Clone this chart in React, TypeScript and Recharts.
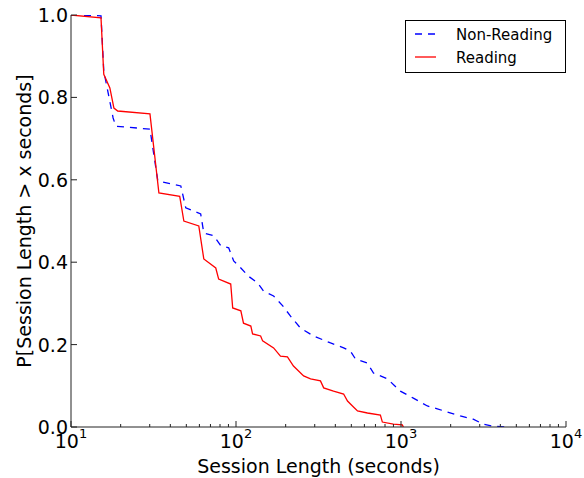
import { Label, Legend, Line, LineChart, XAxis, YAxis } from "recharts";

// session length (s) vs P[length > x]
const NON_READING_X = [
  10, 15.2, 15.8, 18.0, 18.7, 30.1, 33.6, 46.3, 49.6, 61.1, 63.8, 73.3, 80.8,
  90.3, 96.8, 107, 119, 135, 147, 169, 192, 214, 246, 295, 374, 449, 494, 530,
  626, 681, 827, 991, 1188, 1445, 1660, 2286, 2740, 3150, 3620, 4400,
];
const NON_READING_P = [
  1.0, 0.998, 0.864, 0.75, 0.73, 0.723, 0.597, 0.585, 0.532, 0.517, 0.471,
  0.464, 0.44, 0.435, 0.403, 0.386, 0.366, 0.35, 0.33, 0.318, 0.294, 0.269,
  0.24, 0.221, 0.204, 0.192, 0.184, 0.165, 0.155, 0.131, 0.117, 0.087, 0.07,
  0.051, 0.044, 0.027, 0.019, 0.007, 0.002, 0,
];

const READING_X = [
  10, 15.2, 15.8, 17.2, 18.2, 19.2, 30.1, 34.1, 45.6, 48.3, 59.5, 63.8, 75.4,
  78.5, 92.9, 95.5, 107, 111, 123, 126, 141, 145, 169, 186, 205, 223, 257, 283,
  325, 340, 390, 449, 474, 508, 545, 626, 750, 771, 899, 1019, 1033,
];
const READING_P = [
  1.0, 0.993, 0.856, 0.823, 0.774, 0.767, 0.76, 0.568, 0.56, 0.5, 0.488, 0.408,
  0.386, 0.359, 0.347, 0.289, 0.282, 0.252, 0.245, 0.226, 0.221, 0.209, 0.192,
  0.172, 0.17, 0.148, 0.124, 0.117, 0.112, 0.095, 0.087, 0.08, 0.063, 0.051,
  0.039, 0.034, 0.029, 0.012, 0.007, 0.005, 0,
];

const MAJOR_X_TICKS = [10, 100, 1000, 10000];
const Y_TICKS = [0, 0.2, 0.4, 0.6, 0.8, 1.0];
const SERIES_NAMES = ["Non-Reading", "Reading"];

const minorTicks: number[] = [];
for (const d of [10, 100, 1000]) {
  for (let k = 2; k <= 9; k++) minorTicks.push(k * d);
}
const X_TICKS = [...MAJOR_X_TICKS, ...minorTicks].sort((a, b) => a - b);

const nonReading = NON_READING_X.map((x, i) => ({ x, p: NON_READING_P[i] }));
const reading = READING_X.map((x, i) => ({ x, p: READING_P[i] }));

const FONT = "DejaVu Sans";
const AXIS = "#222";

const isMajor = (v: number) => MAJOR_X_TICKS.includes(v);

function BottomTick({ x, y, payload }: any) {
  const v = payload.value;
  const len = isMajor(v) ? 6 : 3;
  return (
    <g>
      <line x1={x} y1={y} x2={x} y2={y - len} stroke={AXIS} />
      {isMajor(v) && (
        <text x={x} y={y + 21} textAnchor="middle" fontSize={19} fontFamily={FONT} fill="#000">
          <tspan>10</tspan>
          <tspan dy={-10} fontSize={13}>
            {Math.round(Math.log10(v))}
          </tspan>
        </text>
      )}
    </g>
  );
}

function TopTick({ x, y, payload }: any) {
  const len = isMajor(payload.value) ? 6 : 3;
  return <line x1={x} y1={y} x2={x} y2={y + len} stroke={AXIS} />;
}

function LeftTick({ x, y, payload }: any) {
  return (
    <g>
      <line x1={x} y1={y} x2={x + 6} y2={y} stroke={AXIS} />
      <text x={x - 3} y={y + 7} textAnchor="end" fontSize={19} fontFamily={FONT} fill="#000">
        {payload.value.toFixed(1)}
      </text>
    </g>
  );
}

function RightTick({ x, y }: any) {
  return <line x1={x} y1={y} x2={x - 6} y2={y} stroke={AXIS} />;
}

function LegendBox() {
  return (
    <svg width={161} height={53} style={{ display: "block" }}>
      <rect x={0.5} y={0.5} width={160} height={52} fill="#fff" stroke="#000" />
      <line x1={10} y1={14} x2={31} y2={14} stroke="#0000ff" strokeWidth={1.3} strokeDasharray="7 6" />
      <text x={51} y={20} fontSize={15} fontFamily={FONT} fill="#000">
        {SERIES_NAMES[0]}
      </text>
      <line x1={10} y1={37} x2={31} y2={37} stroke="#ff0000" strokeWidth={1.3} />
      <text x={51} y={43} fontSize={15} fontFamily={FONT} fill="#000">
        {SERIES_NAMES[1]}
      </text>
    </svg>
  );
}

export default function App() {
  return (
    <div style={{ position: "absolute", left: 0, top: 0, background: "#fff" }}>
      <LineChart width={584} height={478} margin={{ top: 15, right: 18, left: 0, bottom: 0 }}>
        <XAxis
          xAxisId="main"
          dataKey="x"
          type="number"
          scale="log"
          domain={[10, 10000]}
          allowDataOverflow
          ticks={X_TICKS}
          interval={0}
          tick={<BottomTick />}
          tickLine={false}
          tickSize={0}
          tickMargin={0}
          height={51}
          axisLine={{ stroke: AXIS }}
          padding={{ left: 0, right: 0 }}
        >
          <Label
            content={({ viewBox }: any) => (
              <text
                x={viewBox.x + viewBox.width / 2}
                y={viewBox.y + 46}
                textAnchor="middle"
                fontSize={19}
                fontFamily={FONT}
                fill="#000"
              >
                Session Length (seconds)
              </text>
            )}
          />
        </XAxis>
        <XAxis
          xAxisId="top"
          orientation="top"
          dataKey="x"
          type="number"
          scale="log"
          domain={[10, 10000]}
          allowDataOverflow
          ticks={X_TICKS}
          interval={0}
          tick={<TopTick />}
          tickLine={false}
          tickSize={0}
          tickMargin={0}
          height={0}
          axisLine={{ stroke: AXIS }}
        />
        <YAxis
          yAxisId="left"
          type="number"
          domain={[0, 1]}
          allowDataOverflow
          ticks={Y_TICKS}
          interval={0}
          tick={<LeftTick />}
          tickLine={false}
          tickSize={0}
          tickMargin={0}
          width={71}
          axisLine={{ stroke: AXIS }}
        >
          <Label
            content={({ viewBox }: any) => {
              const cx = 24;
              const cy = viewBox.y + viewBox.height / 2;
              return (
                <text
                  x={cx}
                  y={cy}
                  transform={`rotate(-90, ${cx}, ${cy})`}
                  textAnchor="middle"
                  dominantBaseline="central"
                  fontSize={19}
                  fontFamily={FONT}
                  fill="#000"
                >
                  P[Session Length &gt; x seconds]
                </text>
              );
            }}
          />
        </YAxis>
        <YAxis
          yAxisId="right"
          orientation="right"
          type="number"
          domain={[0, 1]}
          allowDataOverflow
          ticks={Y_TICKS}
          interval={0}
          tick={<RightTick />}
          tickLine={false}
          tickSize={0}
          tickMargin={0}
          width={0}
          axisLine={{ stroke: AXIS }}
        />
        <Legend
          layout="horizontal"
          align="center"
          verticalAlign="middle"
          content={() => <LegendBox />}
          wrapperStyle={{ position: "absolute", left: 405, top: 20, width: 161, height: 53 }}
        />
        <Line
          xAxisId="main"
          yAxisId="left"
          data={nonReading}
          dataKey="p"
          name={SERIES_NAMES[0]}
          type="linear"
          stroke="#0000ff"
          strokeWidth={1.3}
          strokeDasharray="7 6"
          dot={false}
          isAnimationActive={false}
        />
        <Line
          xAxisId="main"
          yAxisId="left"
          data={reading}
          dataKey="p"
          name={SERIES_NAMES[1]}
          type="linear"
          stroke="#ff0000"
          strokeWidth={1.3}
          dot={false}
          isAnimationActive={false}
        />
      </LineChart>
    </div>
  );
}
